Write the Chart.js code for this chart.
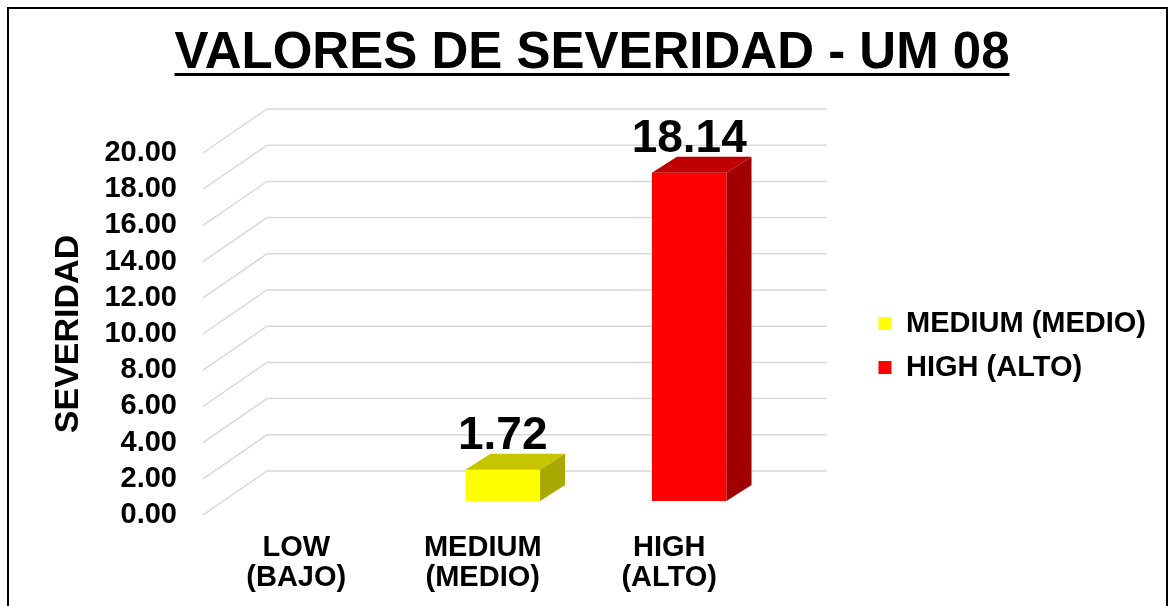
<!DOCTYPE html>
<html>
<head>
<meta charset="utf-8">
<title>Valores de Severidad - UM 08</title>
<script src="https://cdn.jsdelivr.net/npm/chart.js@4.4.1/dist/chart.umd.min.js"></script>
<style>
  html, body { margin: 0; padding: 0; background: #ffffff; }
  #wrap { position: relative; width: 1175px; height: 606px; }
</style>
</head>
<body>
<div id="wrap"><canvas id="severityChart"></canvas></div>
<script>
// -------------------------------------
// Data
// -------------------------------------
const chartTitle = "VALORES DE SEVERIDAD - UM 08";
const categories = [["LOW", "(BAJO)"], ["MEDIUM", "(MEDIO)"], ["HIGH", "(ALTO)"]];
const severityValues = [null, 1.72, 18.14];
const legendLabels = ["MEDIUM (MEDIO)", "HIGH (ALTO)"];
const yMin = 0;
const yMax = 20;
const yStep = 2;

// colours (front, top, side) per category
const frontColors = ["#00B050", "#FFFF00", "#FF0000"];
const topColors = ["#008A3E", "#C6C600", "#C00000"];
const sideColors = ["#006E32", "#A8A800", "#A00000"];
const legendColors = ["#FFFF00", "#FF0000"];

// fake 3D: back wall offset, bar position in depth, bar depth
const WALL = { dx: 64, dy: -44 };
const BAR_SHIFT = { dx: 20, dy: -14 };
const BAR_DEPTH = { dx: 25, dy: -16 };

const FONT = "'Liberation Sans', Arial, Helvetica, sans-serif";
const TITLE_SIZE = 51;
const TITLE_PAD_TOP = 23;

Chart.defaults.font.family = FONT;
Chart.defaults.color = "#000000";

// -----------------------------------------------------
// 3D look: wall grid, bar tops / sides, value labels, frame
// -----------------------------------------------------
const depthPlugin = {
  id: "depth3d",

  beforeDraw(chart) {
    const ctx = chart.ctx;
    ctx.save();
    ctx.strokeStyle = "#000000";
    ctx.lineWidth = 2;
    ctx.strokeRect(8, 8, chart.width - 16, chart.height + 20);
    ctx.restore();
  },

  beforeDatasetsDraw(chart) {
    const { ctx, chartArea, scales } = chart;
    const y = scales.y;

    ctx.save();
    ctx.strokeStyle = "#D9D9D9";
    ctx.lineWidth = 1.5;
    y.ticks.forEach((t) => {
      const py = y.getPixelForValue(t.value);
      ctx.beginPath();
      ctx.moveTo(chartArea.left, py);
      ctx.lineTo(chartArea.left + WALL.dx, py + WALL.dy);
      ctx.lineTo(chartArea.right + WALL.dx, py + WALL.dy);
      ctx.stroke();
    });
    ctx.restore();

    // bars sit a little behind the front plane
    ctx.save();
    ctx.translate(BAR_SHIFT.dx, BAR_SHIFT.dy);
  },

  afterDatasetsDraw(chart) {
    const ctx = chart.ctx;
    const meta = chart.getDatasetMeta(0);

    meta.data.forEach((bar, i) => {
      const v = severityValues[i];
      if (v === null || v === undefined) return;
      const { x, y, base, width } = bar.getProps(["x", "y", "base", "width"], true);
      const l = x - width / 2;
      const r = x + width / 2;

      // top face
      ctx.fillStyle = topColors[i];
      ctx.beginPath();
      ctx.moveTo(l, y);
      ctx.lineTo(l + BAR_DEPTH.dx, y + BAR_DEPTH.dy);
      ctx.lineTo(r + BAR_DEPTH.dx, y + BAR_DEPTH.dy);
      ctx.lineTo(r, y);
      ctx.closePath();
      ctx.fill();

      // side face
      ctx.fillStyle = sideColors[i];
      ctx.beginPath();
      ctx.moveTo(r, y);
      ctx.lineTo(r + BAR_DEPTH.dx, y + BAR_DEPTH.dy);
      ctx.lineTo(r + BAR_DEPTH.dx, base + BAR_DEPTH.dy);
      ctx.lineTo(r, base);
      ctx.closePath();
      ctx.fill();

      // value label
      ctx.fillStyle = "#000000";
      ctx.font = "bold 46px " + FONT;
      ctx.textAlign = "center";
      ctx.textBaseline = "alphabetic";
      ctx.fillText(v.toFixed(2), x, y + BAR_DEPTH.dy - 5);
    });

    ctx.restore();
  },

  afterDraw(chart) {
    // underline under the title
    const ctx = chart.ctx;
    const tb = chart.titleBlock;
    ctx.save();
    ctx.font = "bold " + TITLE_SIZE + "px " + FONT;
    const w = ctx.measureText(chartTitle).width;
    const cx = (tb.left + tb.right) / 2;
    const uy = tb.top + TITLE_PAD_TOP + (TITLE_SIZE * 1.2) / 2 + TITLE_SIZE * 0.38;
    ctx.fillStyle = "#000000";
    ctx.fillRect(cx - w / 2, uy, w, 3);
    ctx.restore();
  }
};

// -----------------------------------------------------
// Chart
// -----------------------------------------------------
const ctx = document.getElementById("severityChart");

const severityChart = new Chart(ctx, {
  type: "bar",
  data: {
    labels: categories,
    datasets: [
      {
        label: "Severidad",
        data: severityValues,
        backgroundColor: frontColors,
        borderWidth: 0,
        categoryPercentage: 1,
        barPercentage: 0.4,
        clip: false
      }
    ]
  },
  options: {
    responsive: true,
    maintainAspectRatio: false,
    animation: false,
    layout: {
      padding: { left: 28, right: 19, top: 0, bottom: 0 }
    },
    plugins: {
      title: {
        display: true,
        text: chartTitle,
        color: "#000000",
        font: { size: TITLE_SIZE, weight: "bold", lineHeight: 1.2 },
        padding: { top: TITLE_PAD_TOP, bottom: 68.8 }
      },
      legend: {
        display: true,
        position: "right",
        fullSize: false,
        maxWidth: 400,
        title: { display: true, text: "", font: { size: 10 }, padding: { top: 11, bottom: 0 } },
        labels: {
          boxWidth: 13,
          boxHeight: 13,
          padding: 15,
          color: "#000000",
          font: { size: 29, weight: "bold" },
          generateLabels: () =>
            legendLabels.map((text, i) => ({
              text: text,
              fillStyle: legendColors[i],
              strokeStyle: legendColors[i],
              lineWidth: 0,
              hidden: false,
              datasetIndex: 0
            }))
        }
      },
      tooltip: { enabled: false }
    },
    scales: {
      x: {
        grid: { display: false, drawTicks: false },
        border: { display: false },
        ticks: {
          padding: 18,
          color: "#000000",
          font: { size: 29, weight: "bold", lineHeight: 1.03 },
          maxRotation: 0
        },
        afterFit: (scale) => { scale.height = 91; }
      },
      y: {
        min: yMin,
        max: yMax,
        grid: { display: false, drawTicks: false },
        border: { display: false },
        ticks: {
          stepSize: yStep,
          autoSkip: false,
          padding: 26,
          color: "#000000",
          font: { size: 29, weight: "bold" },
          callback: (v) => Number(v).toFixed(2)
        },
        title: {
          display: true,
          text: "SEVERIDAD",
          color: "#000000",
          font: { size: 34, weight: "bold", lineHeight: 1.2 },
          padding: { top: 20, bottom: 0 }
        },
        afterFit: (scale) => { scale.width = 175; }
      },
      // empty axis: keeps the gap between the back wall and the legend
      y2: {
        type: "linear",
        position: "right",
        display: true,
        grid: { display: false, drawTicks: false },
        border: { display: false },
        ticks: { display: false },
        afterFit: (scale) => { scale.width = 101; }
      }
    }
  },
  plugins: [depthPlugin]
});
</script>
</body>
</html>
